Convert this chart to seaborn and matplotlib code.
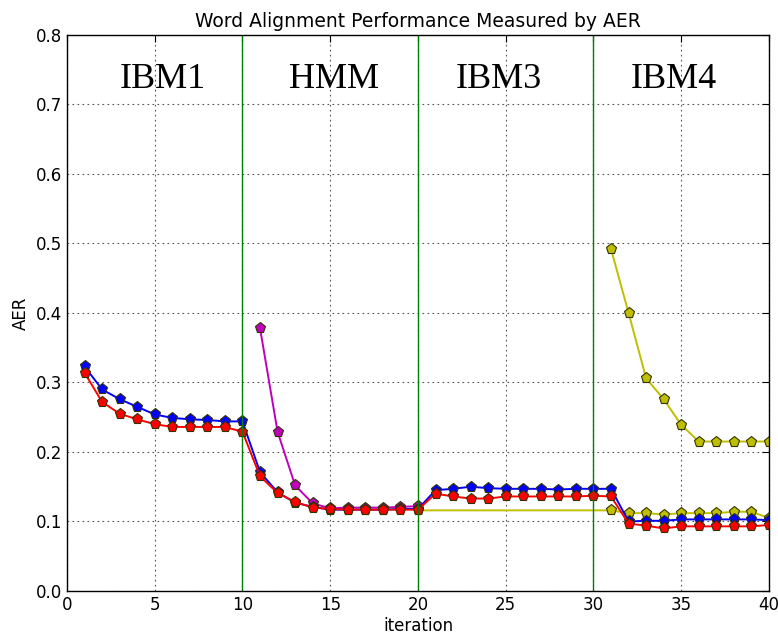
# Word alignment AER per training iteration, IBM1 -> HMM -> IBM3 -> IBM4
import numpy as np
import seaborn as sns
import matplotlib
matplotlib.use('Agg')
import matplotlib.pyplot as plt

# %%
# values
iters_all = list(range(1, 41))
aer_blue = [0.323, 0.290, 0.276, 0.265, 0.254, 0.249, 0.247, 0.246, 0.244, 0.244,
            0.171, 0.142, 0.127, 0.121, 0.117, 0.117, 0.117, 0.117, 0.118, 0.118,
            0.145, 0.147, 0.150, 0.148, 0.147, 0.147, 0.147, 0.146, 0.147, 0.147,
            0.147, 0.100, 0.101, 0.101, 0.103, 0.103, 0.103, 0.103, 0.103, 0.102]
aer_red = [0.314, 0.272, 0.255, 0.247, 0.240, 0.236, 0.236, 0.236, 0.236, 0.229,
           0.165, 0.141, 0.128, 0.120, 0.118, 0.117, 0.117, 0.117, 0.117, 0.117,
           0.140, 0.136, 0.133, 0.133, 0.136, 0.136, 0.136, 0.136, 0.136, 0.137,
           0.136, 0.097, 0.094, 0.090, 0.093, 0.093, 0.093, 0.093, 0.093, 0.095]

iters_hmm = list(range(11, 21))
aer_magenta = [0.378, 0.229, 0.152, 0.126, 0.119, 0.120, 0.120, 0.120, 0.121, 0.122]

iters_ibm4 = list(range(31, 41))
aer_yellow_hi = [0.492, 0.400, 0.306, 0.276, 0.239, 0.215, 0.215, 0.215, 0.215, 0.215]

iters_yellow_lo = [20] + list(range(31, 41))
aer_yellow_lo = [0.116, 0.116, 0.112, 0.112, 0.110, 0.112, 0.112, 0.112, 0.114, 0.114, 0.105]

model_names = ["IBM1", "HMM", "IBM3", "IBM4"]
name_x = [5.45, 15.2, 24.6, 34.6]
boundaries = [10, 20, 30]

# %%
sns.set_style('white')
plt.rcParams['font.family'] = ['DejaVu Sans']
plt.rcParams['xtick.direction'] = 'in'
plt.rcParams['ytick.direction'] = 'in'
for key in ['text.color', 'axes.labelcolor', 'xtick.color', 'ytick.color']:
    plt.rcParams[key] = 'black'

fig = plt.figure(figsize=(7.78, 6.35), dpi=100)
ax = fig.add_axes([0.0861, 0.0693, 0.9023, 0.8757])

mk = dict(marker='p', markersize=8, markeredgecolor='#333300', markeredgewidth=0.8,
          linewidth=1.4)
sns.lineplot(x=iters_hmm, y=aer_magenta, color='m', ax=ax, **mk)
sns.lineplot(x=iters_yellow_lo, y=aer_yellow_lo, color='y', ax=ax, **mk)
sns.lineplot(x=iters_ibm4, y=aer_yellow_hi, color='y', ax=ax, **mk)
sns.lineplot(x=iters_all, y=aer_blue, color='b', ax=ax, **mk)
sns.lineplot(x=iters_all, y=aer_red, color='r', ax=ax, **mk)

for b in boundaries:
    ax.axvline(b, color='g', linewidth=1.0)

for name, xx in zip(model_names, name_x):
    ax.text(xx, 0.736, name, ha='center', va='center', fontsize=26,
            family='Liberation Serif', color='black')

ax.set_xlim(0, 40)
ax.set_ylim(0, 0.8)
ax.set_xticks(np.arange(0, 41, 5))
ax.set_yticks(np.arange(0, 0.81, 0.1))
ax.tick_params(labelsize=12, length=5, top=True, right=True)
ax.grid(True, color='#555555', linestyle=(0, (1.5, 3)), linewidth=0.8)
for s in ax.spines.values():
    s.set_color('black')
    s.set_linewidth(1.0)
ax.set_xlabel('iteration', fontsize=12, labelpad=2)
ax.set_ylabel('AER', fontsize=12)
ax.set_title('Word Alignment Performance Measured by AER', fontsize=13.5, pad=6)

fig.savefig('out.png', dpi=100)
